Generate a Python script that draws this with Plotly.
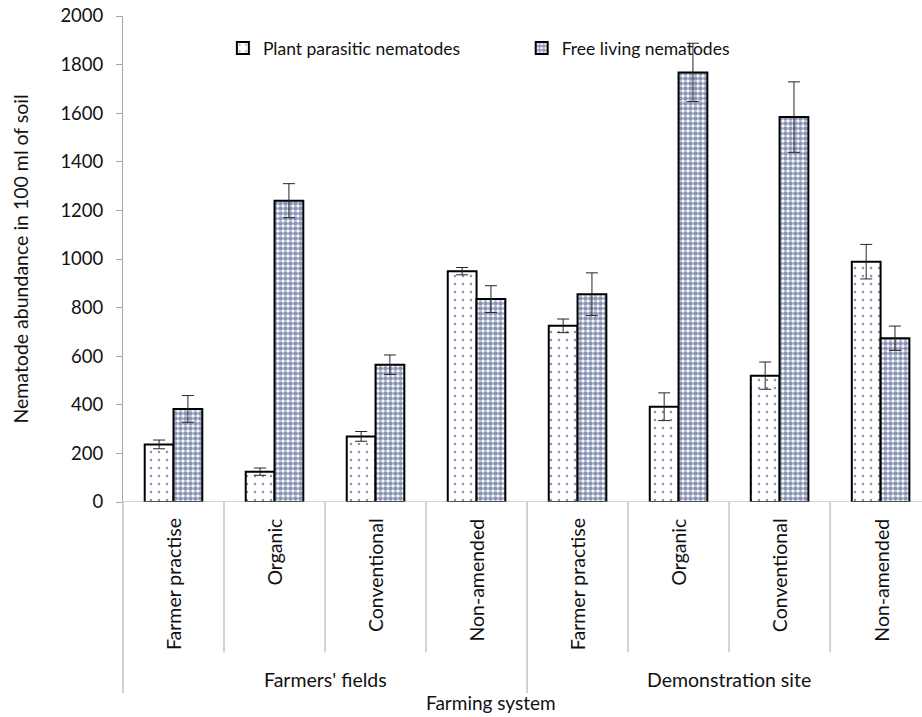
import plotly.graph_objects as go

# Treatments within each site
treatments = ["Farmer practise", "Organic", "Conventional", "Non-amended",
              "Farmer practise", "Organic", "Conventional", "Non-amended"]
sites = ["Farmers' fields", "Demonstration site"]

# Mean abundance (per 100 ml soil) and standard errors
plant_parasitic = [237, 125, 270, 950, 725, 392, 520, 989]
plant_parasitic_err = [18, 15, 20, 15, 28, 57, 56, 71]
free_living = [383, 1240, 565, 835, 855, 1768, 1584, 674]
free_living_err = [55, 70, 40, 55, 88, 120, 145, 50]

FONT = "Lato, Carlito, Calibri, sans-serif"
GRID = "#a6a6a6"
NAVY = "#12296a"
TXT = "#111111"

xpos = list(range(len(treatments)))

fig = go.Figure()
fig.add_trace(go.Bar(
    x=xpos, y=plant_parasitic, name="Plant parasitic nematodes",
    legend="legend",
    marker=dict(color="white", line=dict(color="black", width=2),
                pattern=dict(shape=".", fgcolor=NAVY, bgcolor="white",
                             size=8, solidity=0.08)),
    error_y=dict(type="data", array=plant_parasitic_err, color="#262626",
                 thickness=1, width=6),
))
fig.add_trace(go.Bar(
    x=xpos, y=free_living, name="Free living nematodes",
    legend="legend2",
    marker=dict(color="white", line=dict(color="black", width=2),
                pattern=dict(shape=".", fgcolor=NAVY, bgcolor="white",
                             size=5, solidity=0.68)),
    error_y=dict(type="data", array=free_living_err, color="#262626",
                 thickness=1, width=6),
))

shapes = []
# dividers between treatments below the axis
for k in range(len(treatments) - 1):
    if k == 3:
        continue
    shapes.append(dict(type="line", xref="x", yref="paper",
                       x0=k + 0.5, x1=k + 0.5, y0=0, y1=-0.309,
                       line=dict(color=GRID, width=1)))
# dividers between sites
shapes.append(dict(type="line", xref="paper", yref="paper",
                   x0=0, x1=0, y0=0, y1=-0.393,
                   line=dict(color=GRID, width=1)))
shapes.append(dict(type="line", xref="x", yref="paper",
                   x0=3.5, x1=3.5, y0=0, y1=-0.393,
                   line=dict(color=GRID, width=1)))

annotations = []
for k, t in enumerate(treatments):
    annotations.append(dict(x=k, y=-0.03, xref="x", yref="paper",
                            text=t, textangle=-90, showarrow=False,
                            xanchor="center", yanchor="top",
                            font=dict(family=FONT, size=19.5, color=TXT)))
for k, s in enumerate(sites):
    annotations.append(dict(x=1.5 + 4 * k, y=-0.365, xref="x", yref="paper",
                            text=s, showarrow=False, xanchor="center",
                            yanchor="middle",
                            font=dict(family=FONT, size=19.5, color=TXT)))
annotations.append(dict(x=0.46, y=-0.412, xref="paper", yref="paper",
                        text="Farming system", showarrow=False,
                        xanchor="center", yanchor="middle",
                        font=dict(family=FONT, size=19, color=TXT)))

legend_style = dict(orientation="h", yanchor="middle", xanchor="left",
                    bgcolor="rgba(0,0,0,0)", itemwidth=30,
                    font=dict(family=FONT, size=17.5, color=TXT))

fig.update_layout(
    width=922, height=717,
    margin=dict(l=123, r=0, t=16, b=215),
    paper_bgcolor="white", plot_bgcolor="white",
    barmode="group", bargap=0.43, bargroupgap=0,
    font=dict(family=FONT, size=17, color=TXT),
    showlegend=True,
    legend=dict(x=0.125, y=0.934, **legend_style),
    legend2=dict(x=0.499, y=0.934, **legend_style),
    xaxis=dict(range=[-0.5, 7.41], showticklabels=False, ticks="",
               showgrid=False, zeroline=False, showline=False),
    yaxis=dict(range=[0, 2000], dtick=200, tick0=0, showgrid=False,
               zeroline=False, showline=True, linecolor=GRID, linewidth=1,
               ticks="outside", ticklen=6, tickcolor=GRID,
               ticklabelstandoff=9,
               tickfont=dict(family=FONT, size=18.5, color=TXT),
               title=dict(text="Nematode abundance in 100 ml of soil",
                          font=dict(family=FONT, size=19.5, color=TXT),
                          standoff=26)),
    shapes=shapes,
    annotations=annotations,
)
# baseline along the value axis zero
fig.add_hline(y=0, line=dict(color=GRID, width=1))

fig.write_html("out.html")
